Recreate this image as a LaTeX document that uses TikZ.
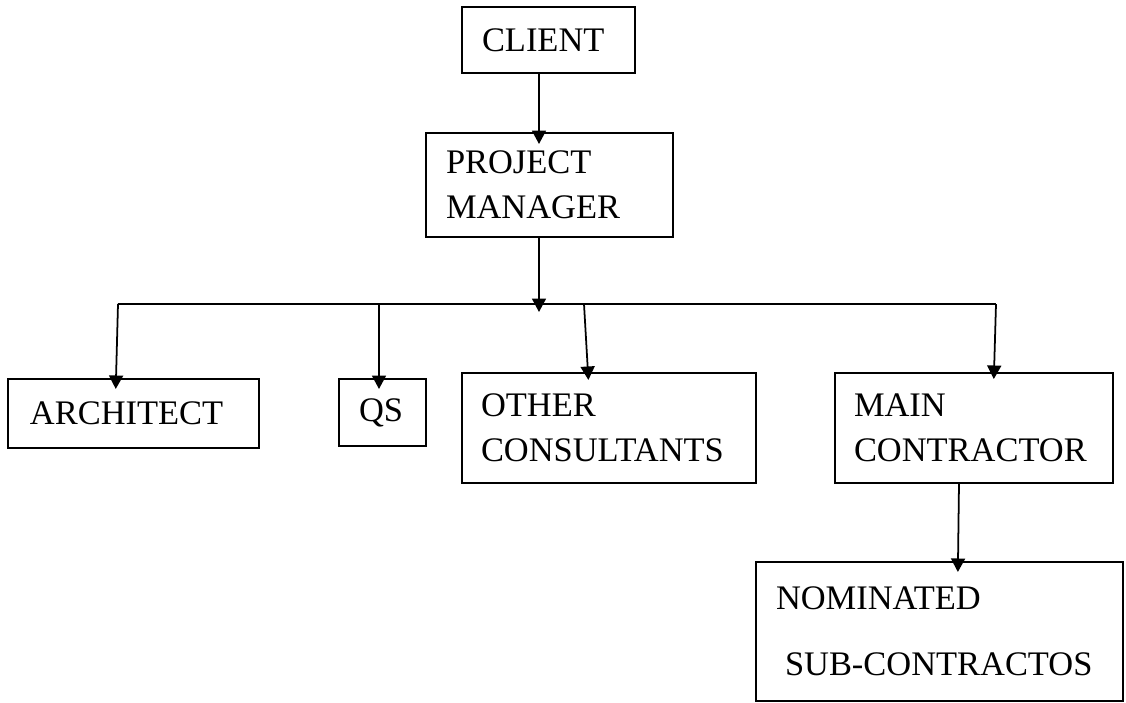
\documentclass[tikz,border=0pt]{standalone}
\usepackage{fontspec}
\setmainfont{Liberation Serif}
\usetikzlibrary{arrows.meta}

\begin{document}
\begin{tikzpicture}[x=0.02cm, y=-0.02cm,
  orgbox/.style={draw, line width=1.25pt, rectangle, anchor=north west, outer sep=0pt,
    inner xsep=0.4cm, inner ysep=0pt, align=left,
    font=\fontsize{19.6pt}{25.6pt}\selectfont},
  link/.style={line width=1pt},
  arr/.style={link, -{Triangle[length=0.27cm, width=0.28cm]}},
]
\useasboundingbox (0,0) rectangle (1126,703);

% boxes of the organisation chart
\node[orgbox, minimum width=173*0.02cm, minimum height=66*0.02cm, text width=133*0.02cm]
  (client) at (462,7) {CLIENT};
\node[orgbox, minimum width=247*0.02cm, minimum height=104*0.02cm, text width=207*0.02cm]
  (pm) at (426,133) {PROJECT\\MANAGER};
\node[orgbox, minimum width=249*0.02cm, minimum height=69*0.02cm, text width=207*0.02cm, inner xsep=0.44cm]
  (arch) at (8,379) {ARCHITECT};
\node[orgbox, minimum width=87*0.02cm, minimum height=67*0.02cm, text width=47*0.02cm]
  (qs) at (339,379) {QS};
\node[orgbox, minimum width=294*0.02cm, minimum height=110*0.02cm, text width=256*0.02cm, inner xsep=0.38cm]
  (other) at (462,373) {OTHER\\CONSULTANTS};
\node[orgbox, minimum width=278*0.02cm, minimum height=110*0.02cm, text width=240*0.02cm, inner xsep=0.38cm]
  (main) at (835,373) {MAIN\\CONTRACTOR};
\node[orgbox, minimum width=367*0.02cm, minimum height=139*0.02cm, text width=327*0.02cm]
  (nom) at (756,562) {NOMINATED\\[0.42cm]\hspace*{0.18cm}SUB-CONTRACTOS};

% distribution bus below the project manager
\coordinate (spine) at (539,304);
\coordinate (busL) at (118,304);
\coordinate (busQ) at (379,304);
\coordinate (busO) at (584,304);
\coordinate (busR) at (996,304);

\draw[arr, shorten >=-0.22cm] (client.south -| spine) -- (pm.north -| spine);
\draw[arr, shorten >=-0.16cm] (pm.south -| spine) -- (spine);
\draw[link] (busL) -- (busR);

\draw[arr, shorten >=-0.2cm] (busL) -- (arch.north -| 116,0);
\draw[arr, shorten >=-0.2cm] (busQ) -- (qs.north -| busQ);
\draw[arr, shorten >=-0.14cm] (busO) -- (other.north -| 588,0);
\draw[arr, shorten >=-0.12cm] (busR) -- (main.north -| 994,0);
\draw[arr, shorten >=-0.2cm] (main.south -| 959,0) -- (nom.north -| 958,0);
\end{tikzpicture}
\end{document}
